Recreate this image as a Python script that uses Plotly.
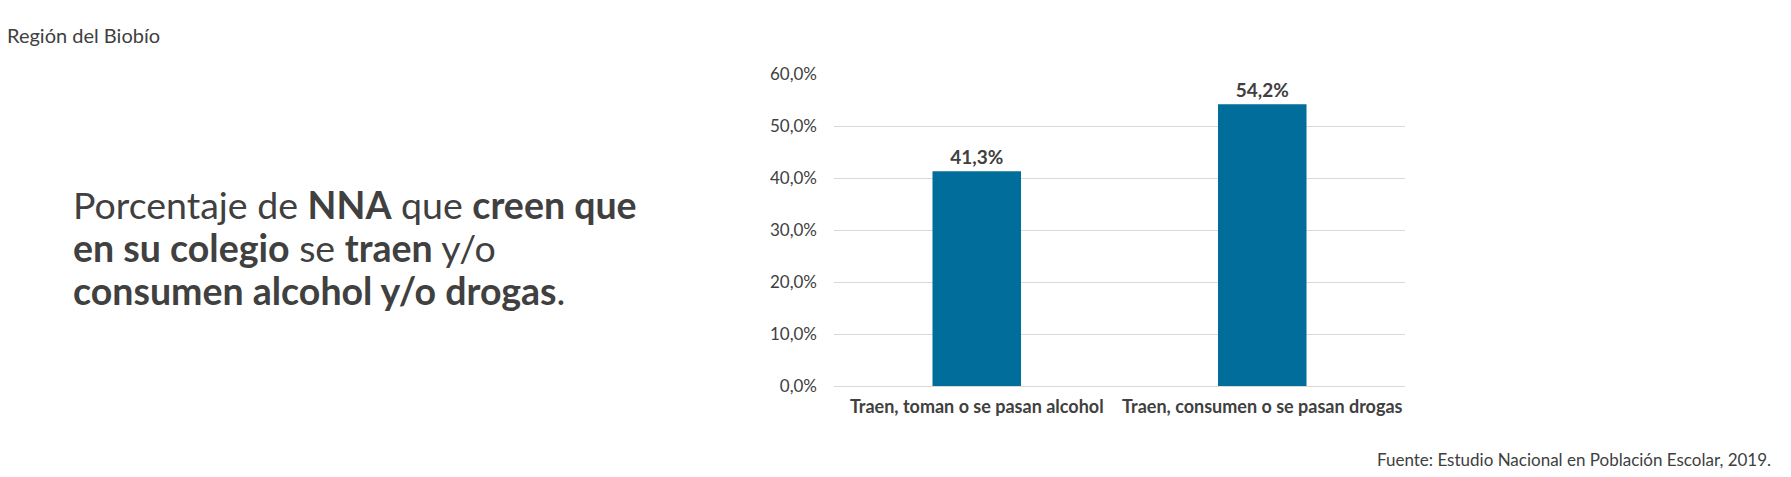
import plotly.graph_objects as go

# Data
categories = ["Traen, toman o se pasan alcohol", "Traen, consumen o se pasan drogas"]
values = [0.413, 0.542]
y_ticks = [0, 0.1, 0.2, 0.3, 0.4, 0.5, 0.6]

title_lines = [
    "Porcentaje de <b>NNA</b> que <b>creen que</b>",
    "<b>en su colegio</b> se <b>traen</b> y/o",
    "<b>consumen alcohol y/o drogas</b>.",
]

FONT = "Lato, 'Noto Sans', sans-serif"
TEXT = "#404040"
BAR = "#006D9A"

fig = go.Figure()

fig.add_trace(
    go.Bar(
        x=categories,
        y=values,
        width=0.31,
        marker=dict(color=BAR, line=dict(width=0)),
        texttemplate="<b>%{y:.1%}</b>",
        textposition="outside",
        textfont=dict(size=19, color=TEXT, family=FONT),
        cliponaxis=False,
        hoverinfo="skip",
    )
)

fig.update_layout(
    width=1791,
    height=477,
    separators=",.",
    paper_bgcolor="white",
    plot_bgcolor="white",
    showlegend=False,
    margin=dict(l=0, r=0, t=74, b=91),
    font=dict(family=FONT, color=TEXT),
    xaxis=dict(
        domain=[834 / 1791, 1405 / 1791],
        showline=False,
        ticks="",
        tickfont=dict(size=18, color=TEXT, family=FONT),
        tickprefix="<b>",
        ticksuffix="</b>",
        ticklabelstandoff=8,
    ),
    yaxis=dict(
        range=[0, 0.6],
        tickvals=y_ticks,
        tickformat=".1%",
        showgrid=True,
        gridcolor="#D9D9D9",
        gridwidth=1,
        zeroline=True,
        zerolinecolor="#D9D9D9",
        zerolinewidth=1,
        tickfont=dict(size=17, color=TEXT, family=FONT),
        ticks="",
        ticklabelstandoff=16,
    ),
)

# Region label, top left
fig.add_annotation(
    text="Región del Biobío",
    xref="paper", yref="paper",
    x=0.003, y=1.1246,
    xanchor="left", yanchor="middle",
    showarrow=False,
    font=dict(size=20, color=TEXT, family=FONT),
)

# Title block on the left, one annotation per line for tight spacing
for i, line in enumerate(title_lines):
    fig.add_annotation(
        text=line,
        xref="paper", yref="paper",
        x=71 / 1791, y=0.581 - i * 0.1375,
        xanchor="left", yanchor="middle",
        showarrow=False,
        font=dict(size=37.5, color=TEXT, family=FONT),
    )

# Source note, bottom right
fig.add_annotation(
    text="Fuente: Estudio Nacional en Población Escolar, 2019.",
    xref="paper", yref="paper",
    x=0.99, y=-0.236,
    xanchor="right", yanchor="middle",
    showarrow=False,
    font=dict(size=17, color=TEXT, family=FONT),
)

# drop the default page margin so the figure sits at the window origin
fig.write_html(
    "out.html",
    config={"displayModeBar": False},
    post_script="document.body.style.margin='0px';",
)
